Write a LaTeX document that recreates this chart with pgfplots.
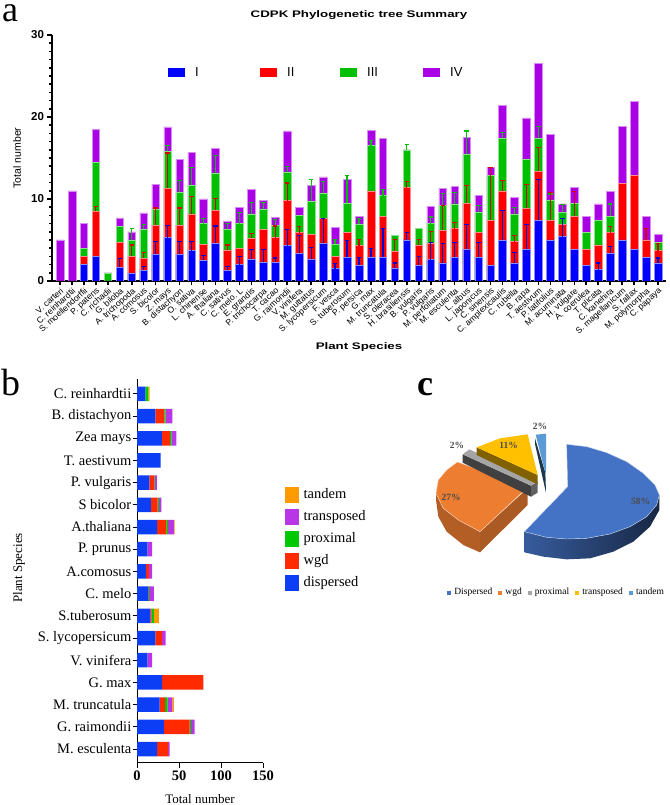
\documentclass[border=0pt]{standalone}
\usepackage{fontspec}
\setmainfont{Liberation Sans}
\newfontfamily\tnr{Liberation Serif}
\usepackage{pgfplots}
\usepackage{pgfplotstable}
\usepackage{graphicx}
\pgfplotsset{compat=1.18}

\definecolor{aI}{HTML}{0000FF}
\definecolor{aII}{HTML}{FF0000}
\definecolor{aIII}{HTML}{00BE00}
\definecolor{aIV}{HTML}{AA00E6}
\definecolor{bdisp}{HTML}{0B3EF5}
\definecolor{bwgd}{HTML}{FF2A00}
\definecolor{bprox}{HTML}{00C800}
\definecolor{btrans}{HTML}{B836E6}
\definecolor{btand}{HTML}{FF9A00}
\definecolor{cblue}{HTML}{4472C4}
\definecolor{corange}{HTML}{ED7D31}
\definecolor{cgray}{HTML}{A5A5A5}
\definecolor{cyellow}{HTML}{FFC000}
\definecolor{clight}{HTML}{5B9BD5}

% panel a: top of each stacked segment
\pgfplotstableread{
x I T2 T3 T4
0 0 0 0 5
1 0 0 0 11
2 2 3 4 7
3 3 8.5 14.5 18.5
4 0 0 1 1
5 1.7 4.7 6.7 7.7
6 1 3 5 6
7 1.3 2.8 6.3 8.3
8 3.3 6.8 8.8 11.8
9 5.3 11.3 15.8 18.8
10 3.3 6.8 10.8 14.8
11 3.7 8.2 11.7 15.7
12 2.5 4.5 7 10
13 4.6 8.6 13.2 16.2
14 1.3 3.8 6.3 7.3
15 2 4 7 9
16 2.7 5.2 8.2 11.2
17 2.3 6.3 8.8 9.8
18 2.3 5.3 6.8 7.8
19 4.3 9.8 13.3 18.3
20 3.4 5.9 8 9
21 2.7 5.7 9.7 11.7
22 4.6 7.6 10.7 12.7
23 1.5 3 4.5 6.5
24 2.9 5.9 9.5 12.4
25 1.9 4.3 6.9 7.9
26 2.9 11 16.5 18.4
27 2.9 7.9 10.4 17.4
28 1.6 3.6 5.6 5.6
29 5 11.4 16 16
30 1.9 4.4 6.4 6.4
31 2.6 4.6 7 9.1
32 2.2 6.2 9.2 11.3
33 2.9 6.4 9.4 11.5
34 3.9 9.5 15.5 17.5
35 2.9 5.9 8.4 10.4
36 1.9 7.4 12.9 13.9
37 5 11 17.4 21.4
38 2.2 4.8 8.2 10.2
39 3.9 8.9 14.9 19.9
40 7.4 13.4 17.4 26.5
41 5 7.4 9.9 17.9
42 5.4 6.9 8.4 9.4
43 3.9 7.9 9.5 11.4
44 1.9 3.9 5.9 7.9
45 1.4 4.4 7.4 9.4
46 3.4 5.9 7.9 10.9
47 5 11.9 11.9 18.9
48 3.9 12.9 12.9 21.9
49 2.9 5 5 7.9
50 2.2 3.7 4.7 5.7
}\treetops

% panel b
\pgfplotstableread{
y disp wgd prox trans tand
0 24 13 0 1.8 0
1 32 30.5 2 4 0
2 27 6.6 2.8 5.6 2
3 30 49 0 0 0
4 12.3 0 0 5.7 0
5 22 8 0 4 0
6 16 1.5 2.5 0 6
7 13 0 1 6 0
8 10.7 3.3 0 4 0
9 12.3 0 0 5.7 0
10 24 11 2 7 0.7
11 16.6 7.9 1.5 3 0
12 14.6 5.9 0.5 2.7 0
13 28 0 0 0 0
14 29.5 9.5 2 6 0
15 22 10.5 1.5 8 0
16 10 0 3.5 0 1.5
}\dupes

\pgfplotsset{
  treebar/.style={ybar, bar width=7.6pt, bar shift=0pt, draw=#1!45!white, line width=0.5pt, fill=#1, forget plot},
  treeerr/.style={draw=none, mark=none, forget plot,
    error bars/.cd, y dir=plus, y explicit,
    error bar style={color=#1, line width=1.2pt},
    error mark options={rotate=90, mark size=2.2pt, color=#1, line width=1.2pt}},
  swatch/.style={legend image code/.code={\fill[##1,draw=none] (0pt,-4.5pt) rectangle (17pt,4.5pt);}},
}

\begin{document}
\begin{tikzpicture}
\path[use as bounding box] (0,0) rectangle (669pt,805pt);

\node[anchor=base west, inner sep=0pt, font=\tnr\fontsize{36}{36}\selectfont] at (2pt,783pt) {a};
\node[anchor=base west, inner sep=0pt, font=\tnr\fontsize{38}{38}\selectfont] at (1pt,409pt) {b};
\node[anchor=base west, inner sep=0pt, font=\tnr\bfseries\fontsize{36}{36}\selectfont] at (417pt,409pt) {c};

% ---- a ----
\begin{axis}[
  at={(52pt,524pt)}, anchor=south west,
  scale only axis, width=614pt, height=246pt,
  xmin=-0.67, xmax=50.67, ymin=0, ymax=30,
  axis lines=left, axis line style={-, line width=1.6pt},
  tick style={black, line width=1.5pt},
  major tick length=4.5pt, minor tick length=2.8pt,
  tick align=outside,
  xtick=data,
  xticklabels={V. carteri,C. reinhardtii,S. moellendorffii,P. patens,C. richadii,G. biloba,A. trichopoda,A. comosus,S. bicolor,Z. mays,B. distachyon,O. sativa,L. chinense,A. thaliana,C. sativus,C. melo. L,E. grandis,P. trichocarpa,T. cacao,G. raimondii,V. vinifera,M. guttatus,S. lycopersicum,F. vesca,S. tuberosum,P. persica,G. max,M. truncatula,S. oleracea,H. brasiliensis,B. vulgaris,P. vulgaris,M. perfoliatum,M. esculenta,L. albus,L. japonicus,C. sinensis,C. amplexicaulis,C. rubella,B. rapa,T. aestivum,P. latifolius,M. acuminata,H. vulgare,A. coerulea,T. plicata,C. kanehira,S. magellanicum,S. fallax,M. polymorpha,C. papaya},
  x tick label style={rotate=42, anchor=north east, inner sep=1pt,
    font=\fontsize{8.6}{9}\selectfont},
  ytick={0,10,20,30}, minor y tick num=9,
  y tick label style={font=\bfseries\fontsize{11.5}{12}\selectfont},
  /pgf/number format/assume math mode=true,
  title={\scalebox{1.4}[1]{\bfseries\fontsize{9.5}{10}\selectfont CDPK Phylogenetic tree Summary}},
  title style={at={(axis description cs:0.5,1.026)}, anchor=south},
  xlabel={\scalebox{1.4}[1]{\bfseries\fontsize{9.5}{10}\selectfont Plant Species}},
  xlabel style={at={(axis description cs:0.5,-0.27)}, anchor=center},
  ylabel={\fontsize{10.5}{11}\selectfont Total number},
  ylabel style={at={(axis description cs:-0.057,0.5)}, anchor=center},
  legend columns=4,
  legend style={at={(axis description cs:0.189,0.847)}, anchor=west, draw=none, fill=none,
    inner sep=0pt, font=\fontsize{13}{14}\selectfont,
    /tikz/every odd column/.append style={column sep=8pt}},
  legend cell align=left,
]
\addlegendimage{swatch, fill=aI}\addlegendentry{\makebox[63pt][l]{I}}
\addlegendimage{swatch, fill=aII}\addlegendentry{\makebox[51pt][l]{II}}
\addlegendimage{swatch, fill=aIII}\addlegendentry{\makebox[54pt][l]{III}}
\addlegendimage{swatch, fill=aIV}\addlegendentry{IV}

\addplot[treebar=aIV] table[x=x, y=T4] {\treetops};
\addplot[treebar=aIII] table[x=x, y=T3] {\treetops};
\addplot[treebar=aII] table[x=x, y=T2] {\treetops};
\addplot[treebar=aI] table[x=x, y=I] {\treetops};

\addplot[treeerr={green!75!black}] coordinates {
  (6,5) +- (0,1.4) (7,6.3) +- (0,0.6) (9,15.8) +- (0,0.7) (10,10.8) +- (0,1.5)
  (11,11.7) +- (0,2.1) (12,7) +- (0,0.6) (13,13.2) +- (0,2.1) (14,6.3) +- (0,0.7)
  (15,7) +- (0,1.4) (16,8.2) +- (0,1.4) (17,8.8) +- (0,0.8) (18,6.8) +- (0,0.7)
  (19,13.3) +- (0,0.7) (21,9.7) +- (0,2.7) (22,10.7) +- (0,1.4) (23,4.5) +- (0,0.6)
  (24,9.5) +- (0,3.4) (25,6.9) +- (0,0.7) (26,16.5) +- (0,0.6) (27,10.4) +- (0,0.8)
  (29,16) +- (0,0.6) (31,7) +- (0,0.8) (32,9.2) +- (0,1.5) (33,9.4) +- (0,1.4)
  (34,15.5) +- (0,2.8) (35,8.4) +- (0,0.8) (37,17.4) +- (0,0.7) (38,8.2) +- (0,0.8)
  (40,17.4) +- (0,1.4) (41,9.9) +- (0,0.7) (42,8.4) +- (0,0.9) (46,7.9) +- (0,1.5)
};
\addplot[treeerr={red!85!black}] coordinates {
  (3,8.5) +- (0,0.6) (6,3) +- (0,1.4) (7,2.8) +- (0,0.7) (8,6.8) +- (0,2.1)
  (9,11.3) +- (0,4.3) (10,6.8) +- (0,2.1) (11,8.2) +- (0,2.1) (13,8.6) +- (0,1.5)
  (14,3.8) +- (0,0.6) (16,5.2) +- (0,0.6) (18,5.3) +- (0,1.4) (19,9.8) +- (0,2.15)
  (20,5.9) +- (0,0.7) (25,4.3) +- (0,0.8) (28,3.6) +- (0,1.5) (29,11.4) +- (0,0.7)
  (30,4.4) +- (0,0.7) (31,4.6) +- (0,1.4) (32,6.2) +- (0,3) (33,6.4) +- (0,0.7)
  (34,9.5) +- (0,2.1) (36,7.4) +- (0,6.4) (37,11) +- (0,1.3) (38,4.8) +- (0,0.7)
  (39,8.9) +- (0,2.9) (40,13.4) +- (0,2.9) (41,7.4) +- (0,3.4) (43,7.9) +- (0,3)
  (46,5.9) +- (0,0.7) (49,5) +- (0,1.4) (50,3.7) +- (0,0.9)
};
\addplot[treeerr={blue!85!black}] coordinates {
  (5,1.7) +- (0,1) (7,1.3) +- (0,0.5) (8,3.3) +- (0,1.5) (9,5.3) +- (0,1.5)
  (10,3.3) +- (0,1.5) (11,3.7) +- (0,1.1) (12,2.5) +- (0,0.6) (13,4.6) +- (0,2.1)
  (14,1.3) +- (0,0.5) (15,2) +- (0,1) (16,2.7) +- (0,1.1) (17,2.3) +- (0,1.5)
  (18,2.3) +- (0,0.5) (19,4.3) +- (0,2) (20,3.4) +- (0,2.1) (21,2.7) +- (0,1.4)
  (22,4.6) +- (0,3) (23,1.5) +- (0,0.6) (24,2.9) +- (0,2) (25,1.9) +- (0,1)
  (26,2.9) +- (0,1.1) (27,2.9) +- (0,3.5) (28,1.6) +- (0,0.6) (29,5) +- (0,0.9)
  (30,1.9) +- (0,1.1) (31,2.6) +- (0,2.1) (32,2.2) +- (0,2.4) (33,2.9) +- (0,1.8)
  (34,3.9) +- (0,3) (35,2.9) +- (0,1.8) (37,5) +- (0,3.6) (38,2.2) +- (0,1.3)
  (39,3.9) +- (0,3) (40,7.4) +- (0,5) (42,5.4) +- (0,2.2) (45,1.4) +- (0,0.8)
  (46,3.4) +- (0,0.8) (50,2.2) +- (0,0.6)
};
\end{axis}

% ---- b ----
\begin{axis}[
  at={(137pt,42pt)}, anchor=south west,
  scale only axis, width=126pt, height=384pt,
  xbar stacked, bar width=14.5pt,
  xmin=0, xmax=150, ymin=-0.63, ymax=16.67,
  axis lines=left, axis line style={-, line width=1pt},
  tick style={black, line width=1pt},
  major tick length=4.5pt,
  tick align=outside,
  ytick=data,
  yticklabels={M. esculenta,G. raimondii,M. truncatula,G. max,V. vinifera,S. lycopersicum,S.tuberosum,C. melo,A.comosus,P. prunus,A.thaliana,S bicolor,P. vulgaris,T. aestivum,Zea mays,B. distachyon,C. reinhardtii},
  xtick={0,50,100,150},
  y tick label style={font=\tnr\fontsize{14.5}{15}\selectfont, inner sep=1pt},
  x tick label style={font=\tnr\bfseries\fontsize{14.5}{15}\selectfont},
  /pgf/number format/assume math mode=true,
  xlabel={\fontsize{13}{14}\selectfont\tnr Total number},
  xlabel style={at={(axis description cs:0.5,-0.094)}, anchor=center},
  ylabel={\fontsize{13}{14}\selectfont\tnr Plant Species},
  ylabel style={at={(axis description cs:-0.936,0.508)}, anchor=center},
  reverse legend,
  legend style={at={(axis description cs:1.17,0.72)}, anchor=north west, draw=none, fill=none,
    inner sep=0pt, row sep=6pt, font=\tnr\fontsize{14.5}{15}\selectfont,
    /tikz/every odd column/.append style={column sep=3pt}},
  legend cell align=left,
  legend image code/.code={\fill[#1] (0pt,-8pt) rectangle (14pt,8pt);},
]
\addplot[fill=bdisp, draw=none] table[x=disp, y=y] {\dupes};
\addlegendentry{dispersed}
\addplot[fill=bwgd, draw=none] table[x=wgd, y=y] {\dupes};
\addlegendentry{wgd}
\addplot[fill=bprox, draw=none] table[x=prox, y=y] {\dupes};
\addlegendentry{proximal}
\addplot[fill=btrans, draw=none] table[x=trans, y=y] {\dupes};
\addlegendentry{transposed}
\addplot[fill=btand, draw=none] table[x=tand, y=y] {\dupes};
\addlegendentry{tandem}
\end{axis}

% ---- c ----
\begin{axis}[
  at={(400pt,165pt)}, anchor=south west,
  scale only axis, width=269pt, height=300pt,
  xmin=0, xmax=807, ymin=0, ymax=900, y dir=reverse,
  hide axis, clip=false,
  legend columns=5,
  legend style={at={(axis cs:142,757)}, anchor=west, draw=none, fill=none,
    inner sep=0pt, font=\tnr\fontsize{9.5}{10}\selectfont,
    /tikz/every even column/.append style={column sep=4.3pt},
    /tikz/every odd column/.append style={column sep=2pt}},
  legend cell align=left,
]
\addlegendimage{only marks, mark=square*, mark size=1.4pt, cblue}\addlegendentry{Dispersed}
\addlegendimage{only marks, mark=square*, mark size=1.4pt, corange}\addlegendentry{wgd}
\addlegendimage{only marks, mark=square*, mark size=1.4pt, cgray}\addlegendentry{proximal}
\addlegendimage{only marks, mark=square*, mark size=1.4pt, cyellow}\addlegendentry{transposed}
\addlegendimage{only marks, mark=square*, mark size=1.4pt, clight}\addlegendentry{tandem}

% dispersed
\addplot[forget plot, draw=none, left color=cblue!80!black, right color=cblue!35!black] coordinates {
  (373,575) (440,592) (500,597) (560,595) (630,582) (690,560) (740,530) (770,495) (778,465)
  (778,510) (750,560) (700,605) (640,635) (570,655) (500,658) (430,650) (373,637) (373,575)};
\addplot[forget plot, fill=cblue, draw=white!70!cblue, line width=0.4pt] coordinates {
  (503,440) (500,313) (560,320) (620,338) (680,365) (730,400) (765,435) (778,465) (770,495)
  (740,530) (690,560) (630,582) (560,595) (500,597) (440,592) (373,575) (503,440)};
% wgd
\addplot[forget plot, fill=corange!75!black, draw=none] coordinates {
  (108,460) (130,505) (175,540) (240,575) (240,637) (190,615) (140,575) (115,530) (108,480) (108,460)};
\addplot[forget plot, fill=corange!72!black, draw=none] coordinates {
  (240,575) (383,445) (383,495) (240,637) (240,575)};
\addplot[forget plot, fill=corange, draw=white!70!corange, line width=0.4pt] coordinates {
  (172,366) (383,442) (240,575) (175,540) (130,505) (108,460) (115,420) (140,390) (172,366)};
% proximal
\addplot[forget plot, fill=black!75, draw=none] coordinates {
  (188,343) (393,437) (393,470) (188,368) (188,343)};
\addplot[forget plot, fill=black!62, draw=none] coordinates {
  (393,437) (413,425) (413,458) (393,470) (393,437)};
\addplot[forget plot, fill=cgray, draw=none] coordinates {
  (188,343) (208,328) (413,425) (393,437) (188,343)};
% transposed
\addplot[forget plot, fill=cyellow!50!black, draw=none] coordinates {
  (230,322) (413,405) (413,433) (230,345) (230,322)};
\addplot[forget plot, fill=cyellow, draw=none] coordinates {
  (230,322) (300,295) (383,283) (413,405) (230,322)};
% tandem
\addplot[forget plot, fill=clight!35!black, draw=none] coordinates {
  (405,295) (436,398) (438,458) (405,312) (405,295)};
\addplot[forget plot, fill=clight, draw=none] coordinates {
  (407,284) (438,281) (438,398) (436,398) (407,284)};

\node[font=\tnr\bfseries\fontsize{9.5}{10}\selectfont, text=black!70] at (axis cs:722,484) {58\%};
\node[font=\tnr\bfseries\fontsize{9.5}{10}\selectfont, text=black!70] at (axis cs:153,472) {27\%};
\node[font=\tnr\bfseries\fontsize{9.5}{10}\selectfont, text=black!70] at (axis cs:171,317) {2\%};
\node[font=\tnr\bfseries\fontsize{9.5}{10}\selectfont, text=black!70] at (axis cs:326,317) {11\%};
\node[font=\tnr\bfseries\fontsize{9.5}{10}\selectfont, text=black!70] at (axis cs:420,260) {2\%};
\end{axis}
\end{tikzpicture}
\end{document}
